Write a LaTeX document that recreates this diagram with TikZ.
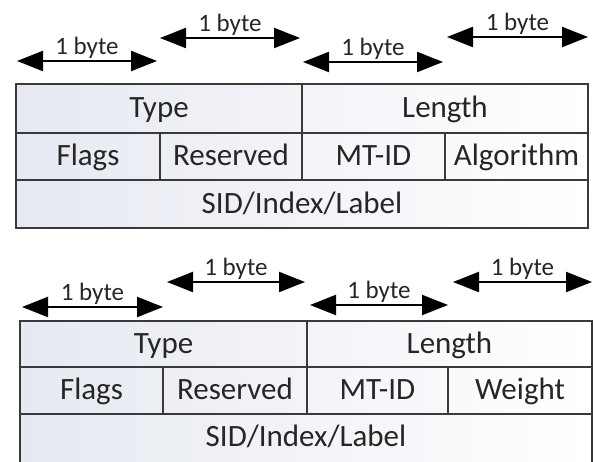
\documentclass[tikz,border=0pt]{standalone}
\usepackage{fontspec}
\setmainfont{Carlito}
\usetikzlibrary{arrows.meta}
\definecolor{edge}{HTML}{3A3A3A}
\definecolor{shade}{HTML}{E6E9F1}
\definecolor{ink}{HTML}{262626}
\begin{document}
\begin{tikzpicture}[x=1pt,y=-1pt,
  cell/.style={draw=edge, line width=1.8pt, inner sep=0pt, outer sep=0pt,
    font=\fontsize{31}{32}\selectfont, text=ink, text height=23pt, text depth=4pt},
  bytearrow/.style={{Triangle[length=26pt,width=20pt]}-{Triangle[length=26pt,width=20pt]}, line width=2.2pt, black},
  bytelabel/.style={font=\fontsize{25}{26}\selectfont, text=ink, inner sep=1pt, above}]
\clip (0,0) rectangle (595,462);
\fill[white] (0,0) rectangle (595,462);
% ---------- top table ----------
\shade[left color=shade, right color=white] (16,84) rectangle (588,228);
\node[cell, minimum width=286pt, minimum height=49pt] (ttype) at (159,108.5) {Type};
\node[cell, minimum width=286pt, minimum height=49pt] (tlen) at (445,108.5) {Length};
\node[cell, minimum width=144pt, minimum height=47pt] (tflags) at (88,156.5) {Flags};
\node[cell, minimum width=142pt, minimum height=47pt] (tres) at (231,156.5) {Reserved};
\node[cell, minimum width=143pt, minimum height=47pt] (tmt) at (373.5,156.5) {MT-ID};
\node[cell, minimum width=143pt, minimum height=47pt] (talg) at (516.5,156.5) {Algorithm};
\node[cell, minimum width=572pt, minimum height=48pt] (tsid) at (302,204) {SID/Index/Label};
% top arrows
\coordinate (a1l) at (17,61);  \coordinate (a1r) at (157,61);
\coordinate (a2l) at (160,38); \coordinate (a2r) at (300,38);
\coordinate (a3l) at (303,62); \coordinate (a3r) at (443,62);
\coordinate (a4l) at (447,37); \coordinate (a4r) at (588,37);
\draw[bytearrow] (a1l) -- node[bytelabel] (l1) {1 byte} (a1r);
\draw[bytearrow] (a2l) -- node[bytelabel] (l2) {1 byte} (a2r);
\draw[bytearrow] (a3l) -- node[bytelabel] (l3) {1 byte} (a3r);
\draw[bytearrow] (a4l) -- node[bytelabel] (l4) {1 byte} (a4r);
% ---------- bottom table ----------
\shade[left color=shade, right color=white] (20,321) rectangle (592,470);
\node[cell, minimum width=287pt, minimum height=46pt] (btype) at (163.5,344) {Type};
\node[cell, minimum width=285pt, minimum height=46pt] (blen) at (449.5,344) {Length};
\node[cell, minimum width=143pt, minimum height=47pt] (bflags) at (91.5,390.5) {Flags};
\node[cell, minimum width=144pt, minimum height=47pt] (bres) at (235,390.5) {Reserved};
\node[cell, minimum width=141pt, minimum height=47pt] (bmt) at (377.5,390.5) {MT-ID};
\node[cell, minimum width=144pt, minimum height=47pt] (bwt) at (520,390.5) {Weight};
\node[cell, minimum width=572pt, minimum height=56pt] (bsid) at (306,442) {};
\node[font=\fontsize{31}{32}\selectfont, text=ink, text height=23pt, text depth=4pt, inner sep=0pt] (bsidt) at (306,437.5) {SID/Index/Label};
% bottom arrows
\coordinate (b1l) at (22,307);  \coordinate (b1r) at (163,307);
\coordinate (b2l) at (167,282); \coordinate (b2r) at (305,282);
\coordinate (b3l) at (310,305); \coordinate (b3r) at (448,305);
\coordinate (b4l) at (453,282); \coordinate (b4r) at (592,282);
\draw[bytearrow] (b1l) -- node[bytelabel] (m1) {1 byte} (b1r);
\draw[bytearrow] (b2l) -- node[bytelabel] (m2) {1 byte} (b2r);
\draw[bytearrow] (b3l) -- node[bytelabel] (m3) {1 byte} (b3r);
\draw[bytearrow] (b4l) -- node[bytelabel] (m4) {1 byte} (b4r);
\end{tikzpicture}
\end{document}
